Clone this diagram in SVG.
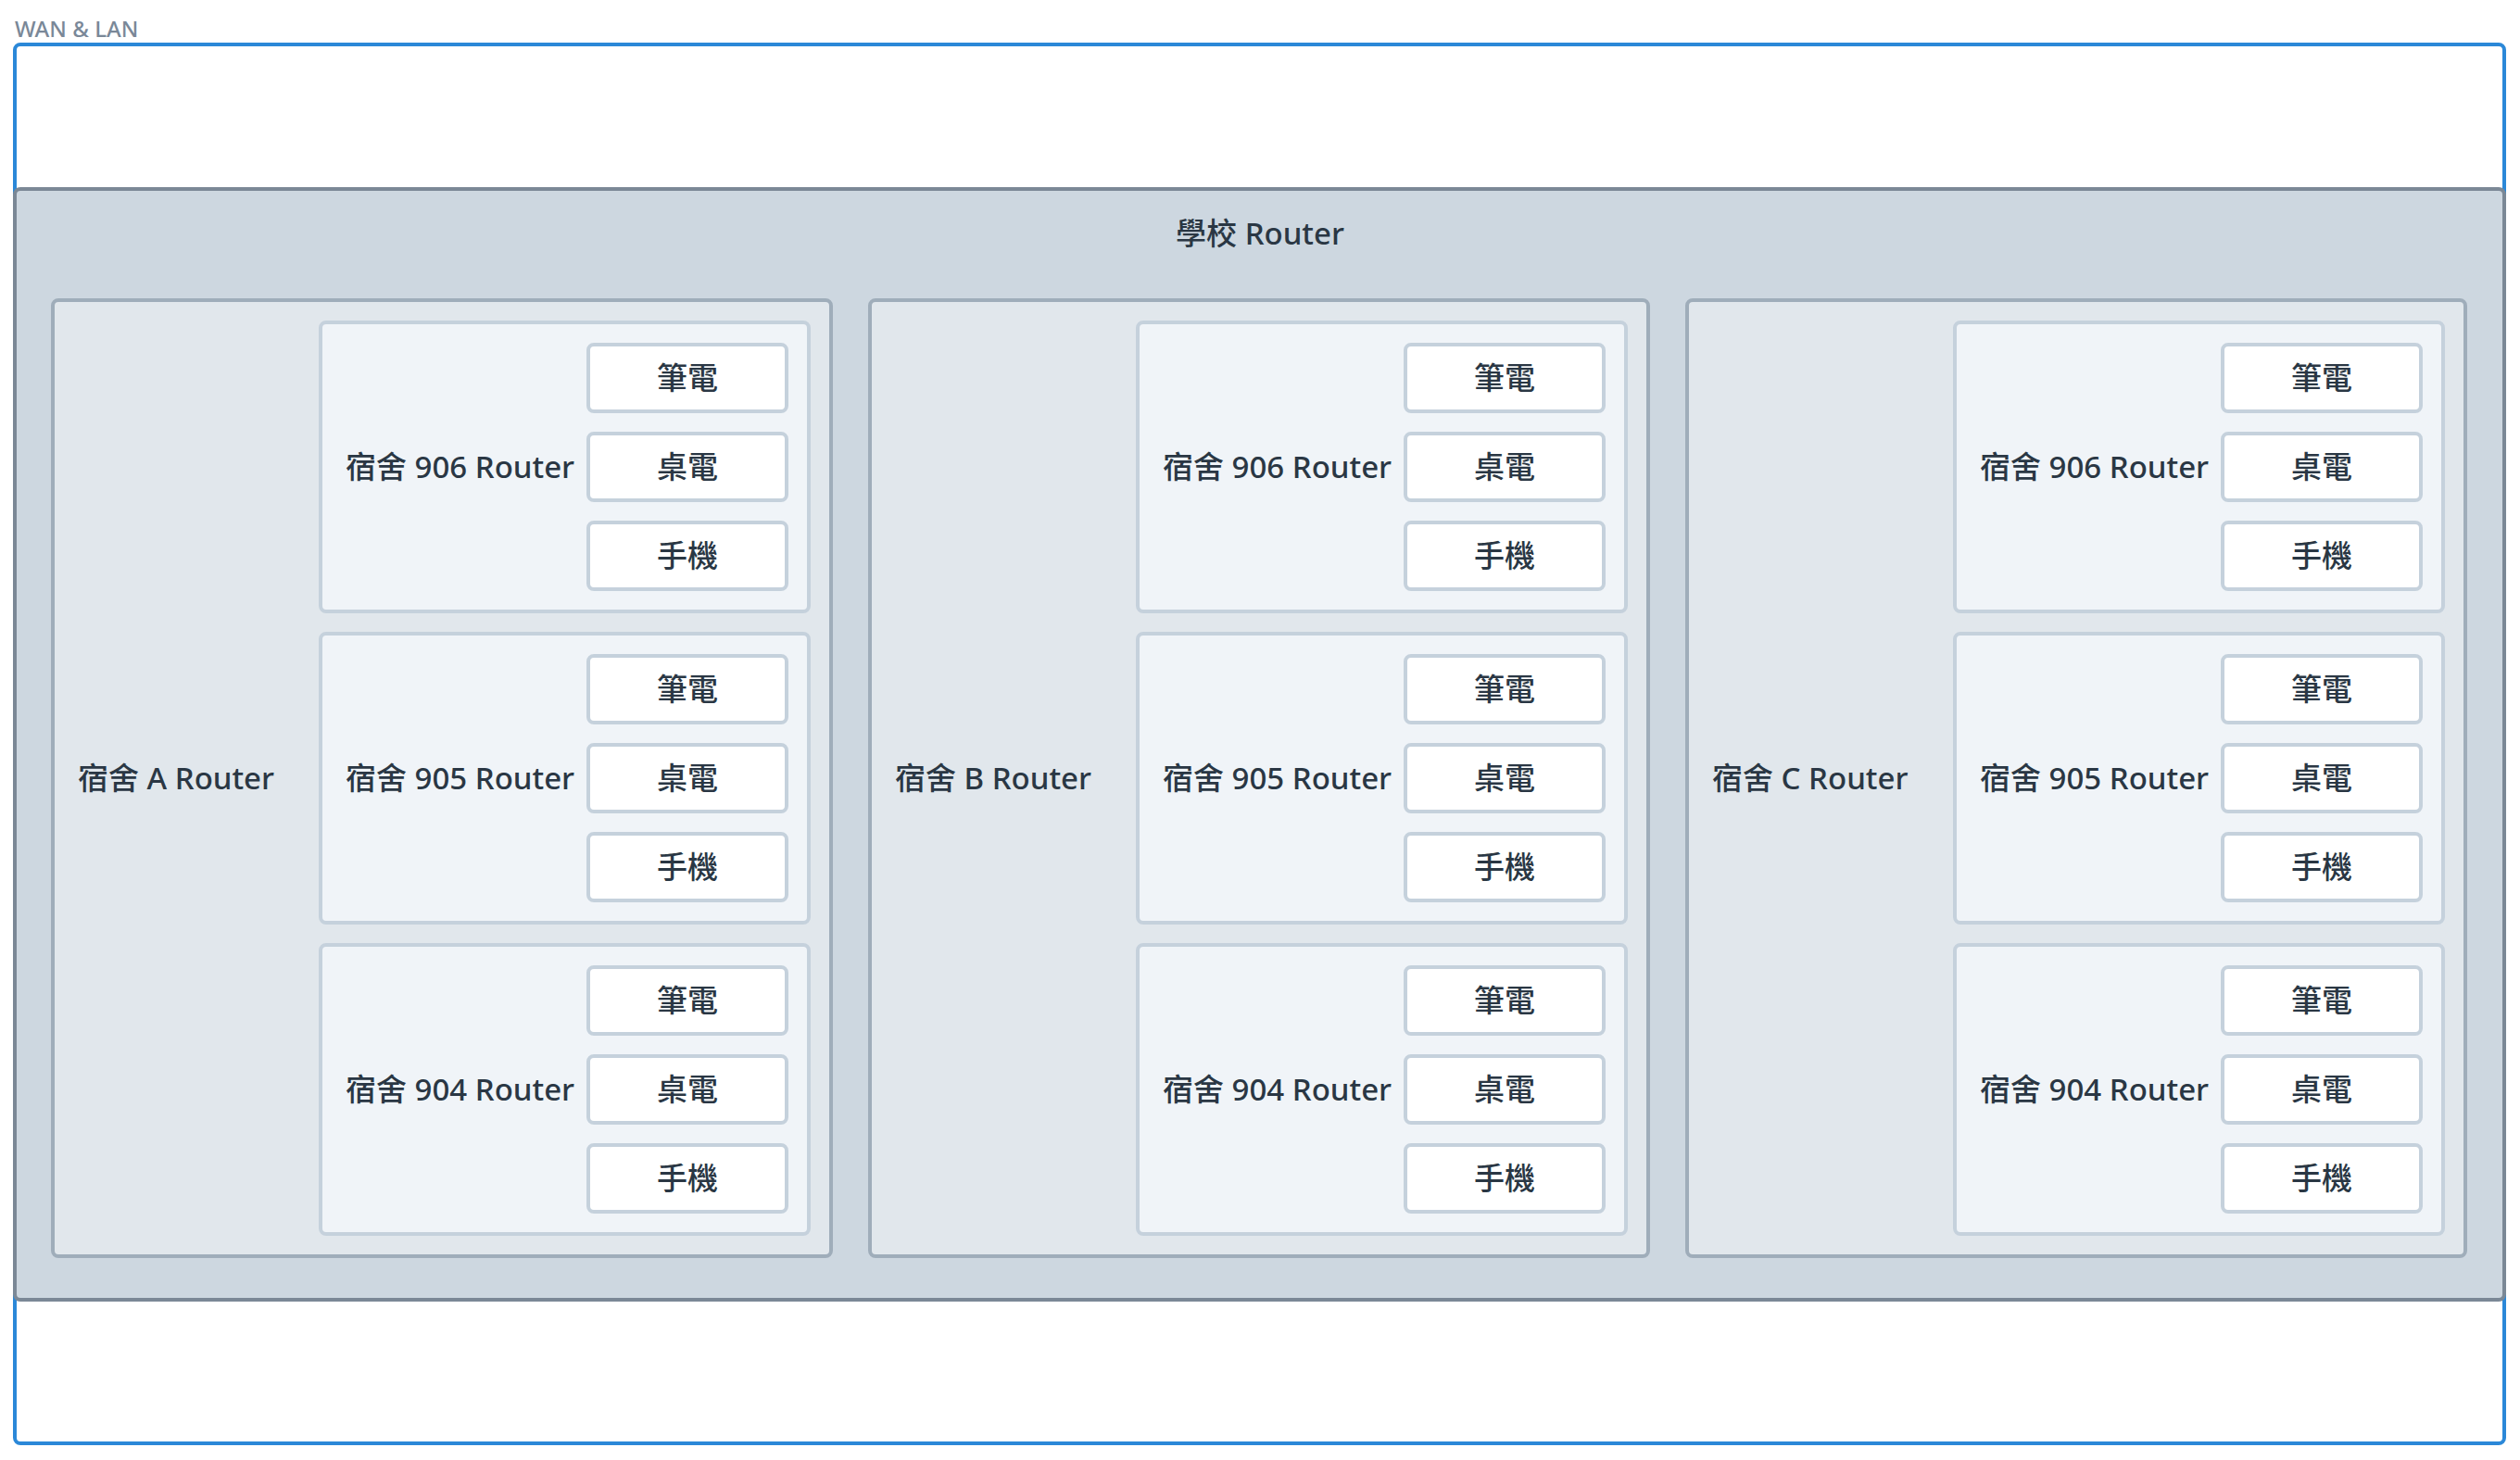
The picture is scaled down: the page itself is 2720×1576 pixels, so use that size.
<svg xmlns="http://www.w3.org/2000/svg" xmlns:xlink="http://www.w3.org/1999/xlink" width="2720" height="1576" viewBox="0 0 2720 1576">
<style>
text{font-family:"Noto Sans","Noto Sans CJK TC",sans-serif;font-size:33px;font-weight:500;fill:#2a3744}
.cap{font-size:24px;fill:#7a8898}
.wan{fill:#ffffff;stroke:#2b88d8;stroke-width:4}
.school{fill:#cdd7e0;stroke:#7b8896;stroke-width:4}
.dorm{fill:#e1e7ec;stroke:#9fadba;stroke-width:4}
.room{fill:#f0f4f8;stroke:#c5d1dc;stroke-width:4}
.dev{fill:#ffffff;stroke:#c5d1dc;stroke-width:4}
.mid{text-anchor:middle}
</style>
<defs>
<g id="room">
<rect class="room" x="346" y="348" width="527" height="312" rx="6"/>
<rect class="dev" x="635" y="372" width="214" height="72" rx="6"/>
<rect class="dev" x="635" y="468" width="214" height="72" rx="6"/>
<rect class="dev" x="635" y="564" width="214" height="72" rx="6"/>
<text class="mid" x="742" y="420">筆電</text>
<text class="mid" x="742" y="516">桌電</text>
<text class="mid" x="742" y="612">手機</text>
</g>
</defs>
<rect fill="#ffffff" x="0" y="0" width="2720" height="1576"/>
<g id="wan-lan">
<text class="cap" x="16" y="40">WAN &amp; LAN</text>
<rect class="wan" x="16" y="48" width="2687" height="1510" rx="6"/>
</g>
<g id="school-router">
<rect class="school" x="16" y="204" width="2687" height="1199" rx="6"/>
<text class="mid" x="1360" y="264">學校 Router</text>
</g>
<g id="connectors"></g>
<g id="dorm-a">
<rect class="dorm" x="57" y="324" width="840" height="1032" rx="6"/>
<text x="84" y="852">宿舍 A Router</text>
<g id="dorm-a-906"><use xlink:href="#room"/><text x="373" y="516">宿舍 906 Router</text></g>
<g id="dorm-a-905" transform="translate(0,336)"><use xlink:href="#room"/><text x="373" y="516">宿舍 905 Router</text></g>
<g id="dorm-a-904" transform="translate(0,672)"><use xlink:href="#room"/><text x="373" y="516">宿舍 904 Router</text></g>
</g>
<g id="dorm-b" transform="translate(882,0)">
<rect class="dorm" x="57" y="324" width="840" height="1032" rx="6"/>
<text x="84" y="852">宿舍 B Router</text>
<g id="dorm-b-906"><use xlink:href="#room"/><text x="373" y="516">宿舍 906 Router</text></g>
<g id="dorm-b-905" transform="translate(0,336)"><use xlink:href="#room"/><text x="373" y="516">宿舍 905 Router</text></g>
<g id="dorm-b-904" transform="translate(0,672)"><use xlink:href="#room"/><text x="373" y="516">宿舍 904 Router</text></g>
</g>
<g id="dorm-c" transform="translate(1764,0)">
<rect class="dorm" x="57" y="324" width="840" height="1032" rx="6"/>
<text x="84" y="852">宿舍 C Router</text>
<g id="dorm-c-906"><use xlink:href="#room"/><text x="373" y="516">宿舍 906 Router</text></g>
<g id="dorm-c-905" transform="translate(0,336)"><use xlink:href="#room"/><text x="373" y="516">宿舍 905 Router</text></g>
<g id="dorm-c-904" transform="translate(0,672)"><use xlink:href="#room"/><text x="373" y="516">宿舍 904 Router</text></g>
</g>
</svg>
